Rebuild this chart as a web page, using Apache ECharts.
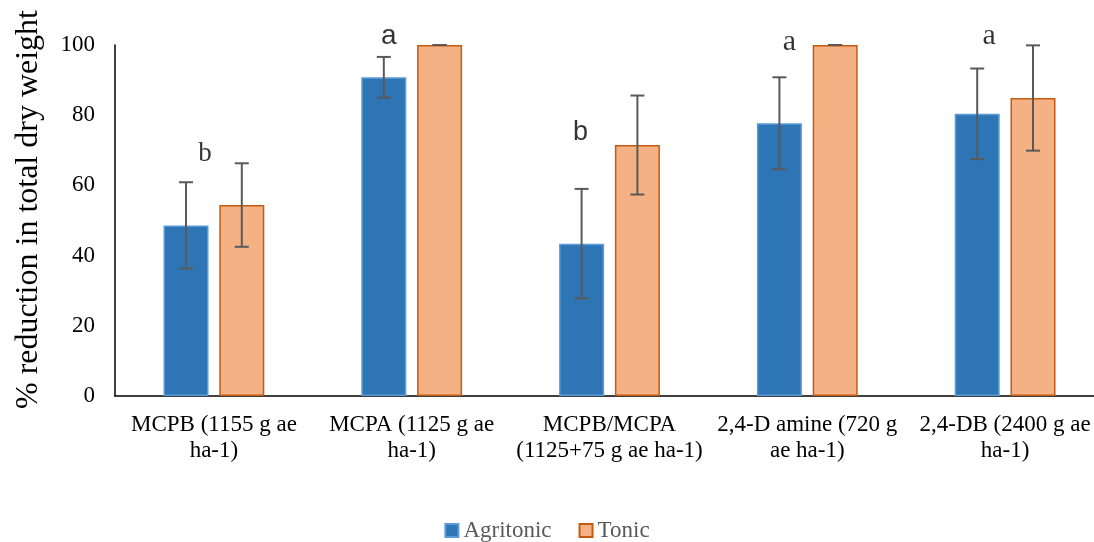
<!DOCTYPE html>
<html>
<head>
<meta charset="utf-8">
<script src="https://cdn.jsdelivr.net/npm/echarts@6/dist/echarts.min.js"></script>
<style>
  html, body { margin: 0; padding: 0; background: #fff; }
  #chart { width: 1094px; height: 542px; }
</style>
</head>
<body>
<div id="chart"></div>
<script>
// Herbicide treatments (two-line labels as they are printed under the axis)
const categories = [
  'MCPB (1155 g ae\nha-1)',
  'MCPA (1125 g ae\nha-1)',
  'MCPB/MCPA\n(1125+75 g ae ha-1)',
  '2,4-D amine (720 g\nae ha-1)',
  '2,4-DB (2400 g ae\nha-1)'
];

// % reduction in total dry weight, means
const agritonic = [48.6, 90.8, 43.4, 77.7, 80.4];
const tonic = [54.4, 100, 71.5, 100, 84.9];

// half-width of the error bars
const agritonicErr = [12.3, 5.8, 15.6, 13.1, 12.9];
const tonicErr = [11.9, 0, 14.1, 0, 15.0];

// mean-separation letters and the height (in %) they sit at
const letters = ['b', 'a', 'b', 'a', 'a'];
const letterLevel = [68.9, 102.6, 75.2, 100.9, 102.6];

const yTicks = [0, 20, 40, 60, 80, 100];

// ---- styling ----
const SERIF = '"Liberation Serif", "Times New Roman", serif';
const SANS = '"Liberation Sans", Arial, sans-serif';
const BAR_W = 45;
const BAR_GAP = 0.24;
const halfStep = (BAR_W * (1 + BAR_GAP)) / 2;
const letterStyle = [
  { font: SERIF, size: 27, dx: -9 },
  { font: SANS, size: 28, dx: -23 },
  { font: SANS, size: 27, dx: -29 },
  { font: SERIF, size: 30, dx: -18 },
  { font: SERIF, size: 30, dx: -16 }
];

function errorData(means, errs) {
  return means.map((m, i) => [i, m - errs[i], m + errs[i]]);
}

function errorSeries(means, errs, shift) {
  return {
    type: 'custom',
    z: 10,
    silent: true,
    data: errorData(means, errs),
    encode: { x: 0, y: [1, 2] },
    renderItem: function (params, api) {
      const i = api.value(0);
      const lo = api.coord([i, api.value(1)]);
      const hi = api.coord([i, api.value(2)]);
      const x = lo[0] + shift;
      const cap = 7;
      const style = { stroke: '#595959', lineWidth: 2 };
      return {
        type: 'group',
        children: [
          { type: 'line', shape: { x1: x, y1: lo[1], x2: x, y2: hi[1] }, style: style },
          { type: 'line', shape: { x1: x - cap, y1: lo[1], x2: x + cap, y2: lo[1] }, style: style },
          { type: 'line', shape: { x1: x - cap, y1: hi[1], x2: x + cap, y2: hi[1] }, style: style }
        ]
      };
    }
  };
}

const chart = echarts.init(document.getElementById('chart'), null, { renderer: 'canvas' });

chart.setOption({
  animation: false,
  backgroundColor: '#ffffff',
  textStyle: { fontFamily: SERIF },
  grid: {
    left: 115,
    right: -10,
    top: 45,
    bottom: 146,
    outerBoundsMode: 'none',
    containLabel: false
  },
  legend: {
    data: ['Agritonic', 'Tonic'],
    bottom: -5,
    left: 'center',
    itemWidth: 13,
    itemHeight: 13,
    itemGap: 27,
    icon: 'rect',
    textStyle: { fontFamily: SERIF, fontSize: 23, color: '#595959' }
  },
  xAxis: {
    type: 'category',
    data: categories,
    axisLine: { lineStyle: { color: '#000', width: 1.5 } },
    axisTick: { show: false },
    axisLabel: {
      interval: 0,
      margin: 16,
      color: '#000',
      fontFamily: SERIF,
      fontSize: 23,
      lineHeight: 26
    }
  },
  yAxis: {
    type: 'value',
    min: 0,
    max: 100,
    interval: 20,
    name: '% reduction in total dry weight',
    nameLocation: 'middle',
    nameGap: 70,
    nameTextStyle: { fontFamily: SERIF, fontSize: 32, color: '#000', padding: [0, 0, 0, 22] },
    axisLine: { show: true, lineStyle: { color: '#000', width: 1.5 } },
    axisTick: { show: false },
    splitLine: { show: false },
    axisLabel: {
      margin: 20,
      color: '#000',
      fontFamily: SERIF,
      fontSize: 23,
      formatter: function (v) { return yTicks.indexOf(v) >= 0 ? String(v) : ''; }
    }
  },
  series: [
    {
      name: 'Agritonic',
      type: 'bar',
      barWidth: BAR_W,
      barGap: (BAR_GAP * 100) + '%',
      data: agritonic,
      itemStyle: { color: '#2E75B6', borderColor: '#5B9BD5', borderWidth: 1.5 }
    },
    {
      name: 'Tonic',
      type: 'bar',
      barWidth: BAR_W,
      data: tonic,
      itemStyle: { color: '#F4B183', borderColor: '#C55A11', borderWidth: 1.5 }
    },
    errorSeries(agritonic, agritonicErr, -halfStep),
    errorSeries(tonic, tonicErr, halfStep),
    {
      type: 'scatter',
      symbolSize: 0,
      silent: true,
      clip: false,
      z: 12,
      itemStyle: { color: '#000' },
      data: letters.map((t, i) => ({
        value: [i, letterLevel[i]],
        label: {
          show: true,
          position: 'inside',
          formatter: t,
          color: '#000',
          textBorderWidth: 0,
          textBorderColor: 'transparent',
          fontFamily: letterStyle[i].font,
          fontSize: letterStyle[i].size,
          offset: [letterStyle[i].dx, 0]
        }
      }))
    }
  ]
});
</script>
</body>
</html>
